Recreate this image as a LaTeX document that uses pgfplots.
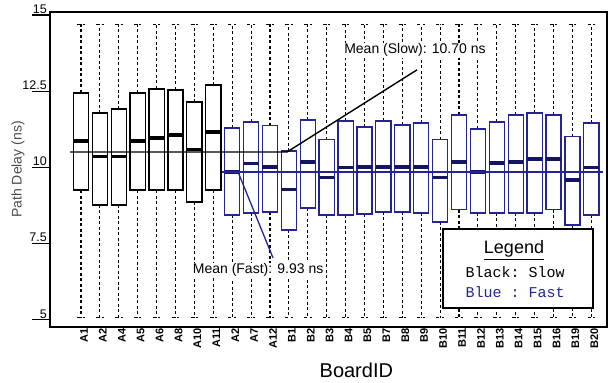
\documentclass[border=0pt]{standalone}
\usepackage{fontspec}
\setmainfont{Liberation Sans}
\setmonofont{Liberation Mono}
\usepackage{pgfplots}
\pgfplotsset{compat=1.18}
\usepgfplotslibrary{statistics}
\definecolor{fastblue}{rgb}{0.14,0.14,0.58}
\definecolor{fastmed}{rgb}{0.08,0.08,0.40}

\newcommand{\slowbox}[4]{%
  \addplot[draw=black, line width=1.3pt,
    boxplot prepared={draw direction=y, draw position=#1, lower whisker=5.05, lower quartile=#2,
      median=#3, upper quartile=#4, upper whisker=14.7,
      box extend=0.8, whisker extend=0.4},
    boxplot/every whisker/.style={black, line width=1.1pt, dash pattern=on 3pt off 2.5pt},
    boxplot/every median/.style={black, line width=3.2pt}] coordinates {};}
\newcommand{\fastbox}[4]{%
  \addplot[draw=fastblue, line width=1.3pt,
    boxplot prepared={draw direction=y, draw position=#1, lower whisker=5.05, lower quartile=#2,
      median=#3, upper quartile=#4, upper whisker=14.7,
      box extend=0.8, whisker extend=0.4},
    boxplot/every whisker/.style={black, line width=1.1pt, dash pattern=on 3pt off 2.5pt},
    boxplot/every median/.style={fastmed, line width=3.2pt}] coordinates {};}

\begin{document}
\begin{tikzpicture}
\useasboundingbox (-50pt,-56pt) rectangle (561pt,327pt);
\begin{axis}[at={(0pt,0pt)}, anchor=south west, scale only axis,
  width=557pt, height=315pt,
  xmin=-1.64, xmax=27.83, ymin=4.75, ymax=15.1,
  axis line style={line width=1.3pt},
  clip=false,
  xtick={0,...,27},
  xticklabels={A1,A2,A4,A5,A6,A8,A10,A11,A2,A7,A12,B1,B2,B3,B4,B5,B7,B8,B9,B10,B11,B12,B13,B14,B15,B16,B19,B20},
  x tick label style={rotate=90, anchor=east, font=\fontsize{11}{12}\selectfont\bfseries, inner sep=1pt, yshift=-3pt},
  xtick style={draw=none},
  ytick={5,7.5,10,12.5,15},
  yticklabels={5,7.5,10,12.5,15},
  ytick pos=left,
  major tick length=18pt,
  ytick style={line width=1.2pt, black, xshift=-18pt},
  y tick label style={anchor=south east, font=\fontsize{12.5}{14}\selectfont, inner sep=1pt, xshift=-2pt},
  xlabel={BoardID}, ylabel={Path Delay (ns)},
  every axis x label/.style={at={(axis description cs:0.55,-0.137)}, anchor=center, font=\fontsize{20}{22}\selectfont},
  every axis y label/.style={at={(axis description cs:-0.0575,0.5)}, rotate=90, anchor=center, font=\fontsize{14}{16}\selectfont, text=black!70},
]
\slowbox{0}{9.25}{10.86}{12.44}
\slowbox{1}{8.76}{10.34}{11.78}
\slowbox{2}{8.76}{10.34}{11.91}
\slowbox{3}{9.25}{10.86}{12.44}
\slowbox{4}{9.25}{10.96}{12.57}
\slowbox{5}{9.25}{11.06}{12.54}
\slowbox{6}{8.86}{10.57}{12.14}
\slowbox{7}{9.25}{11.16}{12.70}
\fastbox{8}{8.43}{9.84}{11.29}
\fastbox{9}{8.50}{10.11}{11.49}
\fastbox{10}{8.53}{10.01}{11.36}
\fastbox{11}{7.94}{9.28}{10.53}
\fastbox{12}{8.66}{10.17}{11.55}
\fastbox{13}{8.43}{9.65}{10.90}
\fastbox{14}{8.43}{9.98}{11.52}
\fastbox{15}{8.46}{10.01}{11.32}
\fastbox{16}{8.53}{10.01}{11.52}
\fastbox{17}{8.53}{10.01}{11.39}
\fastbox{18}{8.50}{10.01}{11.45}
\fastbox{19}{8.20}{9.65}{10.90}
\fastbox{20}{8.60}{10.17}{11.72}
\fastbox{21}{8.50}{9.84}{11.26}
\fastbox{22}{8.50}{10.14}{11.49}
\fastbox{23}{8.50}{10.17}{11.72}
\fastbox{24}{8.50}{10.27}{11.78}
\fastbox{25}{8.60}{10.27}{11.72}
\fastbox{26}{8.10}{9.58}{11.00}
\fastbox{27}{8.43}{9.98}{11.45}
% mean lines
\addplot[black, line width=1.4pt] coordinates {(-0.58,10.50) (10.9,10.50) (17.78,13.20)};
\addplot[fastblue, line width=1.6pt] coordinates {(7.46,9.84) (27.6,9.84)};
\addplot[fastblue, line width=1.3pt] coordinates {(8.31,9.84) (10.16,7.02)};
\node[font=\fontsize{14}{16}\selectfont, fill=white, inner sep=1pt] at (axis cs:17.67,13.85) {Mean (Slow): 10.70 ns};
\node[font=\fontsize{14}{16}\selectfont, fill=white, inner sep=1pt] at (axis cs:9.37,6.62) {Mean (Fast): 9.93 ns};
% legend box
\draw[fill=white, line width=1.3pt] (axis cs:19.15,5.37) rectangle (axis cs:27.09,7.97);
\node[font=\fontsize{18}{20}\selectfont] at (axis cs:22.91,7.28) {\underline{Legend}};
\node[font=\ttfamily\fontsize{15}{17}\selectfont, anchor=west] at (axis cs:20.16,6.56) {Black: Slow};
\node[font=\ttfamily\fontsize{15}{17}\selectfont, anchor=west, text=fastblue] at (axis cs:20.16,5.90) {Blue : Fast};
\end{axis}
\end{tikzpicture}
\end{document}
